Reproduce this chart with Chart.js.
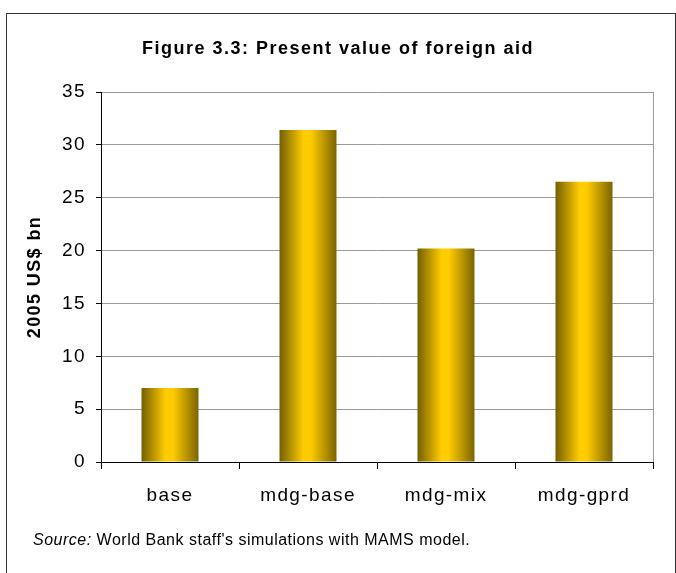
<!DOCTYPE html>
<html lang="en">
<head>
  <meta charset="UTF-8">
  <title>Figure 3.3: Present value of foreign aid</title>
  <script src="https://cdn.jsdelivr.net/npm/chart.js"></script>
  <style>
    html, body {
      margin: 0;
      padding: 0;
      background: #ffffff;
      overflow: hidden;
      font-family: 'Liberation Sans', Arial, sans-serif;
    }
    .frame {
      position: absolute;
      left: 6px;
      top: 13px;
      width: 668px;
      height: 620px;
      border: 1px solid #333;
    }
    .chart-box {
      position: absolute;
      left: 0;
      top: 0;
      width: 676px;
      height: 573px;
    }
    .title {
      position: absolute;
      left: 0;
      width: 676px;
      top: 38px;
      line-height: 21px;
      text-align: center;
      font-size: 18px;
      font-weight: bold;
      letter-spacing: 1.5px;
      color: #000;
    }
    .source {
      position: absolute;
      left: 33px;
      top: 530px;
      line-height: 19px;
      font-size: 16px;
      letter-spacing: 0.5px;
      color: #000;
    }
  </style>
</head>
<body>
  <div class="frame"></div>
  <div class="chart-box">
    <canvas id="aidChart"></canvas>
  </div>
  <div class="title">Figure 3.3: Present value of foreign aid</div>
  <div class="source"><i>Source:</i> World Bank staff's simulations with MAMS model.</div>

  <script>
    const scenarios = ["base", "mdg-base", "mdg-mix", "mdg-gprd"];
    const presentValue = [7.0, 31.4, 20.2, 26.5];
    const yTicks = [0, 5, 10, 15, 20, 25, 30, 35];

    const FONT = "'Liberation Sans', Arial, sans-serif";
    const BAR_PCT = 0.413;

    function barGradient(c) {
      const chart = c.chart;
      const xs = chart.scales.x;
      if (!xs || !chart.chartArea) return "#ffcc00";
      const cx = xs.getPixelForValue(c.dataIndex);
      const half = (xs.width / scenarios.length) * BAR_PCT / 2;
      const g = chart.ctx.createLinearGradient(cx - half, 0, cx + half, 0);
      g.addColorStop(0, "#735f00");
      g.addColorStop(0.42, "#ffcc00");
      g.addColorStop(0.55, "#ffcc00");
      g.addColorStop(1, "#7a6400");
      return g;
    }

    // canvas letter spacing, so the labels look like the printed figure
    const spacing = {
      id: "spacing",
      beforeUpdate(chart) { chart.ctx.letterSpacing = "1.4px"; },
      beforeDraw(chart) { chart.ctx.letterSpacing = "1.4px"; }
    };

    // grey line on the right edge of the plot area
    const rightEdge = {
      id: "rightEdge",
      beforeDatasetsDraw(chart) {
        const { ctx, chartArea } = chart;
        ctx.save();
        ctx.strokeStyle = "#999999";
        ctx.lineWidth = 1;
        ctx.beginPath();
        ctx.moveTo(chartArea.right + 0.5, chartArea.top);
        ctx.lineTo(chartArea.right + 0.5, chartArea.bottom);
        ctx.stroke();
        ctx.restore();
      }
    };

    const ctx = document.getElementById("aidChart").getContext("2d");
    const chart = new Chart(ctx, {
      type: "bar",
      data: {
        labels: scenarios,
        datasets: [{
          label: "Present value of foreign aid",
          data: presentValue,
          backgroundColor: barGradient,
          borderWidth: 0,
          categoryPercentage: 1,
          barPercentage: BAR_PCT
        }]
      },
      options: {
        responsive: true,
        maintainAspectRatio: false,
        animation: false,
        layout: { padding: { left: 0, top: 92, right: 23, bottom: 0 } },
        plugins: {
          legend: { display: false },
          tooltip: { enabled: false }
        },
        scales: {
          x: {
            grid: {
              offset: true,
              drawOnChartArea: false,
              tickLength: 7,
              tickColor: "#000000"
            },
            border: { color: "#000000", width: 1 },
            ticks: {
              color: "#000000",
              padding: 15,
              font: { family: FONT, size: 19 }
            },
            afterFit(scale) { scale.height = 111; }
          },
          y: {
            min: 0,
            max: 35,
            afterBuildTicks(scale) {
              scale.ticks = yTicks.map(v => ({ value: v }));
            },
            grid: {
              color: "#999999",
              tickLength: 5,
              tickColor: "#000000"
            },
            border: { color: "#000000", width: 1 },
            ticks: {
              color: "#000000",
              padding: 10,
              font: { family: FONT, size: 19 }
            },
            title: {
              display: true,
              text: "2005 US$ bn",
              color: "#000000",
              padding: { top: 24, bottom: 0 },
              font: { family: FONT, size: 18, weight: "bold" }
            },
            afterFit(scale) { scale.width = 101; }
          }
        }
      },
      plugins: [spacing, rightEdge]
    });
  </script>
</body>
</html>
